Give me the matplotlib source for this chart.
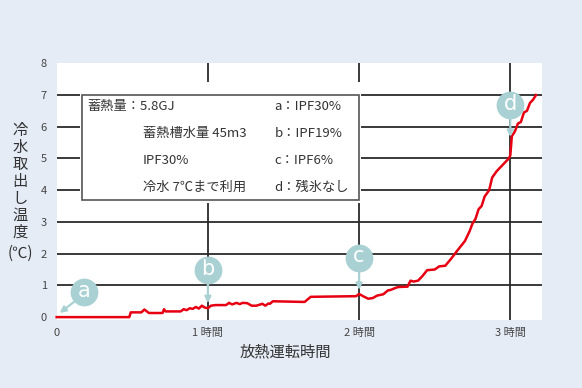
import matplotlib.pyplot as plt
from matplotlib.patches import Rectangle

plt.rcParams['font.family'] = ['Noto Sans CJK JP', 'DejaVu Sans']

# Data (hours, degC)
time_h = [0.00, 0.48, 0.49, 0.56, 0.58, 0.61, 0.70, 0.71, 0.72, 0.82,
          0.84, 0.86, 0.88, 0.90, 0.92, 0.94, 0.96, 0.98, 1.00, 1.02,
          1.05, 1.12, 1.14, 1.16, 1.19, 1.21, 1.23, 1.26, 1.29, 1.32,
          1.36, 1.38, 1.40, 1.41, 1.43, 1.62, 1.64, 1.68, 1.98, 2.00,
          2.03, 2.06, 2.09, 2.12, 2.16, 2.19, 2.21, 2.24, 2.26, 2.32,
          2.34, 2.36, 2.39, 2.42, 2.45, 2.50, 2.53, 2.57, 2.61, 2.65,
          2.68, 2.70, 2.73, 2.75, 2.77, 2.79, 2.81, 2.83, 2.86, 2.88,
          2.91, 2.93, 2.96, 2.99, 3.00, 3.01, 3.03, 3.05, 3.07, 3.09,
          3.11, 3.13, 3.15, 3.17]
temp_c = [0.00, 0.00, 0.15, 0.15, 0.24, 0.13, 0.13, 0.25, 0.18, 0.18,
          0.25, 0.22, 0.28, 0.26, 0.32, 0.27, 0.36, 0.30, 0.28, 0.36,
          0.38, 0.38, 0.45, 0.40, 0.45, 0.41, 0.45, 0.44, 0.36, 0.36,
          0.42, 0.36, 0.43, 0.42, 0.50, 0.48, 0.48, 0.64, 0.66, 0.73,
          0.65, 0.58, 0.60, 0.68, 0.72, 0.84, 0.86, 0.92, 0.95, 0.96,
          1.15, 1.12, 1.15, 1.30, 1.48, 1.50, 1.60, 1.62, 1.85, 2.10,
          2.28, 2.40, 2.70, 2.95, 3.10, 3.40, 3.50, 3.80, 4.00, 4.40,
          4.60, 4.70, 4.85, 5.00, 5.10, 5.70, 5.85, 6.10, 6.15, 6.45,
          6.50, 6.75, 6.85, 7.00]

y_ticks = [0, 1, 2, 3, 4, 5, 6, 7, 8]
x_ticks = [0, 1, 2, 3]
x_labels = ['0', '1 時間', '2 時間', '3 時間']

# markers: label, circle centre, arrow tip
mark_labels = ['a', 'b', 'c', 'd']
mark_xy = [(0.18, 0.78), (1.0, 1.47), (2.0, 1.87), (3.0, 6.68)]
mark_tip = [(0.02, 0.13), (1.0, 0.44), (2.0, 0.86), (3.0, 5.68)]
mark_tail = [(0.12, 0.50), (1.0, 1.08), (2.0, 1.48), (3.0, 6.28)]

info_left = ['蓄熱量：5.8GJ', '蓄熱槽水量 45m3', 'IPF30%', '冷水 7℃まで利用']
info_right = ['a：IPF30%', 'b：IPF19%', 'c：IPF6%', 'd：残氷なし']

bg = '#E6ECF6'
teal = '#A9D1D4'
grid_c = '#2a2a2a'

fig = plt.figure(figsize=(5.82, 3.88), dpi=100)
fig.patch.set_facecolor(bg)
ax = fig.add_axes([0.0974, 0.1753, 0.834, 0.6616])
ax.set_facecolor('white')
ax.set_xlim(0, 3.21)
ax.set_ylim(-0.09, 7.93)
for s in ax.spines.values():
    s.set_visible(False)

for y in y_ticks[1:-1]:
    ax.axhline(y, color=grid_c, lw=1.3, zorder=1)
for x in x_ticks[1:]:
    ax.axvline(x, color=grid_c, lw=1.3, zorder=1)

ax.set_yticks(y_ticks)
ax.set_yticklabels([str(v) for v in y_ticks])
ax.set_xticks(x_ticks)
ax.set_xticklabels(x_labels)
ax.tick_params(length=0, labelsize=8, colors='#444444', pad=7)
ax.tick_params(axis='x', pad=6)

# info box: white mask then border
ax.add_patch(Rectangle((0.152, 3.59), 2.0 - 0.152 + 0.013, 7.42 - 3.59,
                       facecolor='white', edgecolor='none', zorder=2))
ax.add_patch(Rectangle((0.168, 3.685), 2.0 - 0.168, 7.0 - 3.685,
                       facecolor='white', edgecolor='#555555', lw=1.2, zorder=3))
rows_y = [6.65, 5.78, 4.94, 4.10]
for i, t in enumerate(info_left):
    x0 = 0.2 if i == 0 else 0.57
    ax.text(x0, rows_y[i], t, fontsize=9.5, color='#333333', va='center', zorder=4)
for i, t in enumerate(info_right):
    ax.text(1.44, rows_y[i], t, fontsize=9.5, color='#333333', va='center', zorder=4)

ax.plot(time_h, temp_c, color='#E60012', lw=1.8, zorder=5, clip_on=False)

for lab, c, tip, tail in zip(mark_labels, mark_xy, mark_tip, mark_tail):
    ax.annotate('', xy=tip, xytext=tail,
                arrowprops=dict(arrowstyle='-|>', color=teal, lw=1.6,
                                mutation_scale=9, shrinkA=0, shrinkB=0),
                zorder=6)
    ax.plot(*c, 'o', ms=20, color=teal, mec='none', zorder=7, clip_on=False)
    ax.text(c[0], c[1] + 0.05, lab, fontsize=15, color='white', ha='center',
            va='center', zorder=8, family='DejaVu Sans')

fig.text(0.0344, 0.533, '\n'.join('冷水取出し温度'), fontsize=11, color='#333333',
         ha='center', va='center', linespacing=1.0)
fig.text(0.0344, 0.347, '(℃)', fontsize=11, color='#333333', ha='center', va='center')
fig.text(0.49, 0.093, '放熱運転時間', fontsize=11, color='#333333', ha='center', va='center')

fig.savefig('out.png', dpi=100, facecolor=bg)
